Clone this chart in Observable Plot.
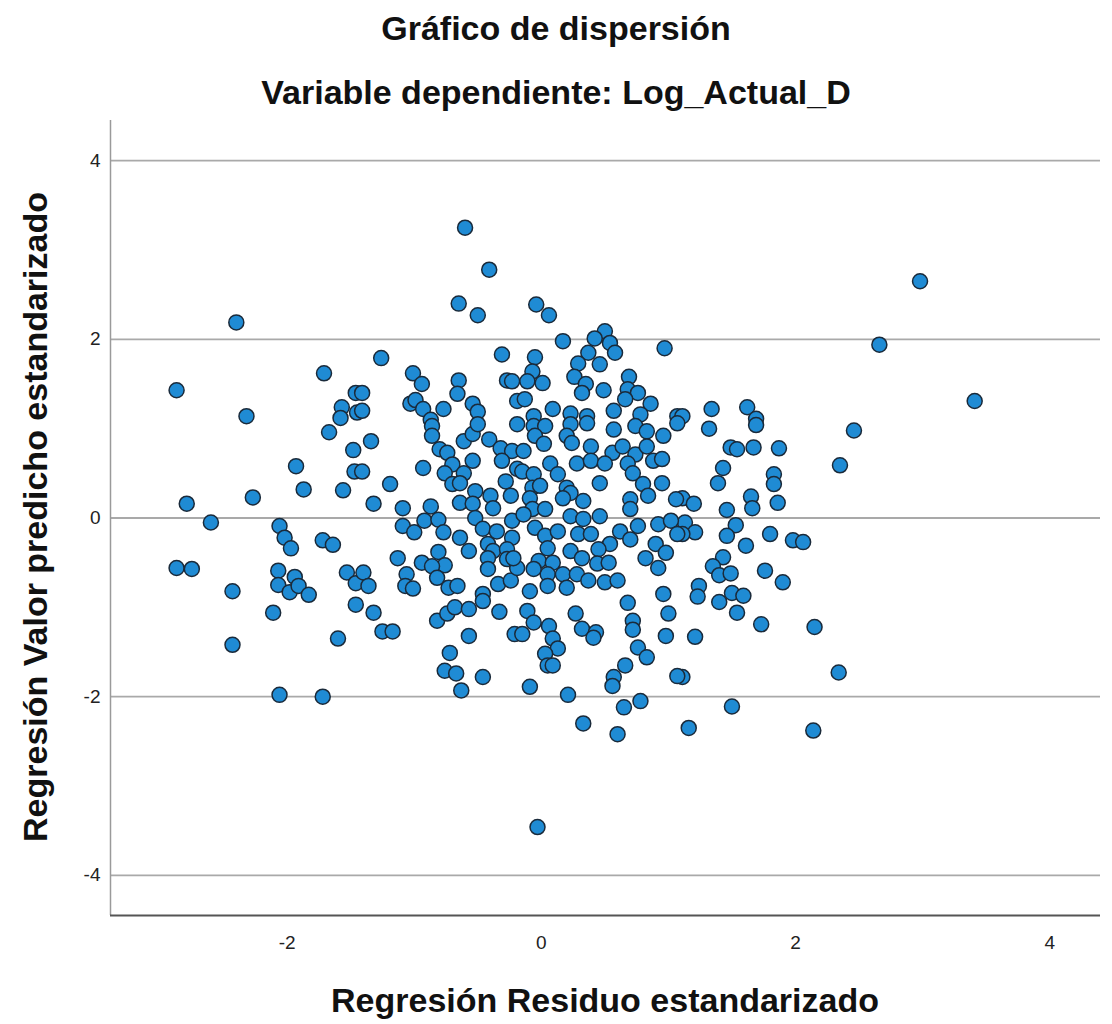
<!DOCTYPE html>
<html>
<head>
<meta charset="utf-8">
<script src="https://cdn.jsdelivr.net/npm/d3@7"></script>
<script src="https://cdn.jsdelivr.net/npm/@observablehq/plot@0.6"></script>
<style>
  body { margin: 0; background: #fff; }
  #wrap { position: relative; width: 1112px; height: 1024px; overflow: hidden; font-family: "Liberation Sans", Arial, sans-serif; color: #111; }
  .ttl { position: absolute; left: 0; width: 1112px; text-align: center; font-weight: bold; font-size: 34px; line-height: 40px; white-space: nowrap; }
  #xlab { position: absolute; left: 105px; width: 1000px; top: 980px; text-align: center; font-weight: bold; font-size: 34px; line-height: 40px; white-space: nowrap; }
  #ylab { position: absolute; left: -365px; top: 497px; width: 800px; height: 40px; text-align: center; font-weight: bold; font-size: 34px; line-height: 40px; white-space: nowrap; transform: rotate(-90deg); transform-origin: 50% 50%; }
  #chart { position: absolute; left: 0; top: 110px; }
</style>
</head>
<body>
<div id="wrap">
  <div class="ttl" style="top:8px">Gráfico de dispersión</div>
  <div class="ttl" style="top:72px">Variable dependiente: Log_Actual_D</div>
  <div id="chart"></div>
  <div id="ylab">Regresión Valor predicho estandarizado</div>
  <div id="xlab">Regresión Residuo estandarizado</div>
</div>
<script>
// Tick values
const xTicks = [-2, 0, 2, 4];
const yTicks = [-4, -2, 0, 2, 4];
const xDomain = [-3.39, 4.40];
const yDomain = [-4.45, 4.45];

// Regresión Residuo estandarizado (x)
const residuo = [
  -0.60,-0.41,-0.65,-0.50,-0.04,0.06,-2.40,2.98,2.66,3.41,
  2.46,2.35,-2.87,-2.32,-2.79,-2.60,-2.27,-2.87,-2.75,-2.43,
  -2.43,-2.11,-2.06,-1.72,-1.60,-0.03,2.14,2.15,2.34,1.50,
  1.16,0.60,0.33,-0.63,-0.09,0.21,
  -1.71,-1.46,-1.57,-1.45,-1.58,-1.67,-1.48,-1.93,-1.47,-1.87,
  -1.56,-2.06,-2.02,-1.97,-1.72,-1.64,-2.07,-1.94,-2.07,-1.98,
  -1.91,-1.83,-1.53,-1.46,-1.46,
  -1.26,-0.31,-1.01,-0.94,-0.65,-0.66,-0.27,-0.23,-1.03,-0.99,
  -0.93,-0.77,-0.54,-0.50,-1.41,-1.41,-0.19,-0.87,
  0.17,0.97,0.50,0.42,0.54,0.58,0.37,0.46,0.29,-0.05,
  -0.07,-0.11,0.01,0.26,0.35,0.32,0.49,0.69,0.68,0.76,
  0.66,0.86,-0.13,0.09,0.23,0.36,0.57,0.78,1.07,-0.06,
  1.34,1.62,1.11,1.69,
  1.32,1.69,1.49,1.54,1.67,1.87,1.43,1.39,1.83,1.83,
  1.11,1.20,1.46,1.65,1.66,1.86,1.13,1.21,1.11,1.53,
  1.46,1.61,1.80,1.98,2.06,1.43,1.35,1.40,1.49,1.76,
  1.90,1.24,1.23,1.40,1.50,1.59,1.54,1.73,1.21,1.11,
  -1.34,-0.86,-0.86,-0.80,-0.74,-0.61,-0.54,-0.50,-0.41,-0.32,
  -0.23,-0.19,-0.93,-0.70,-0.54,-0.76,-0.61,-0.31,-0.28,-0.19,
  -1.41,-1.19,-0.70,-0.64,-0.52,-0.40,-0.24,-1.32,-1.09,-0.87,
  -0.64,-0.54,-0.38,-1.09,-1.00,-0.92,-0.81,-0.77,-0.64,-0.52,
  -0.46,-0.35,-0.23,-0.23,-0.57,-0.42,-0.38,-0.27,-0.42,-0.27,
  -1.13,-0.94,-0.81,-0.76,-0.86,-1.06,-0.82,-1.40,-1.36,-1.07,
  -1.01,-0.73,-0.66,-0.46,-0.34,-0.24,-0.19,-0.22,-0.42,
  -0.06,0.03,0.23,0.36,0.57,0.74,0.83,0.96,1.07,-0.05,
  0.02,0.20,0.24,0.39,0.56,0.64,0.74,0.83,0.88,0.95,
  -0.14,0.07,0.13,0.28,0.39,0.50,0.68,0.72,0.80,0.84,
  0.95,1.06,0.46,-0.15,-0.06,-0.07,-0.01,0.20,0.23,0.17,
  0.33,0.70,0.70,0.46,-0.09,-0.07,0.03,-0.14,0.23,0.33,
  0.76,0.92,1.02,1.07,-0.05,0.03,0.13,0.29,0.39,0.62,
  0.70,0.54,0.90,0.98,0.05,0.23,0.45,-0.02,0.09,0.32,
  0.44,0.53,0.82,0.92,0.05,0.17,0.28,0.37,0.50,0.60,
  0.05,0.20,-0.09,-0.06,0.96,
  -1.32,-1.25,-1.17,-0.82,-0.74,-0.68,-0.57,-0.46,-0.33,-0.57,
  -0.21,-0.72,-0.76,-0.67,-0.46,
  -0.11,-0.06,0.06,0.09,0.13,0.03,0.05,0.09,0.27,0.32,
  0.43,0.41,-0.15,0.68,0.72,0.72,0.76,0.83,0.66,0.57,
  0.56,0.65,0.78,0.98,1.00,1.07
];

// Regresión Valor predicho estandarizado (y)
const predicho = [
  3.25,2.78,2.40,2.27,2.39,2.27,2.19,2.65,1.94,1.31,
  0.98,0.59,1.43,1.14,0.16,-0.05,0.23,-0.56,-0.57,-0.82,
  -1.42,-1.06,-1.98,-2.00,-1.35,-3.46,-2.38,-1.22,-1.73,-2.11,
  -2.35,-2.42,-2.30,-1.93,-1.89,-1.98,
  1.62,1.40,1.24,1.18,1.12,0.96,0.76,0.58,0.52,0.32,
  0.31,-0.09,-0.22,-0.34,-0.25,-0.30,-0.59,-0.66,-0.75,-0.83,
  -0.76,-0.86,-0.61,-0.73,-0.97,
  1.79,1.83,1.62,1.50,1.54,1.39,1.54,1.53,1.28,1.32,
  1.22,1.22,1.28,1.19,1.40,1.20,1.31,1.10,
  1.98,1.90,2.09,2.01,1.96,1.85,1.85,1.72,1.73,1.80,
  1.64,1.53,1.51,1.58,1.50,1.40,1.43,1.58,1.44,1.40,
  1.33,1.28,1.33,1.22,1.17,1.14,1.20,1.16,1.14,1.14,
  1.22,1.24,1.14,1.11,
  1.00,1.04,0.79,0.77,0.79,0.78,0.56,0.39,0.49,0.38,
  0.22,0.16,0.09,0.24,0.11,0.17,-0.05,-0.16,-0.18,-0.08,
  -0.20,-0.31,-0.18,-0.25,-0.27,-0.44,-0.54,-0.64,-0.62,-0.59,
  -0.72,-0.76,-0.88,-0.94,-0.84,-0.87,-1.06,-1.19,-1.33,-1.78,
  0.86,1.03,0.92,0.77,0.73,0.86,0.94,1.05,0.88,0.78,
  0.75,1.05,0.56,0.60,0.64,0.50,0.50,0.64,0.41,0.55,
  0.52,0.38,0.38,0.39,0.30,0.25,0.25,0.16,0.11,0.13,
  0.17,0.16,0.11,-0.09,-0.16,-0.03,-0.02,-0.16,-0.22,0.00,
  -0.12,-0.15,-0.03,-0.22,-0.37,-0.29,-0.37,-0.35,-0.45,-0.46,
  -0.45,-0.50,-0.38,-0.53,-0.54,-0.63,-0.67,-0.61,-0.76,-0.76,
  -0.79,-0.78,-0.76,-0.85,-0.74,-0.70,-0.56,-0.45,-0.57,
  1.03,1.03,1.05,1.06,0.99,1.03,0.97,0.92,1.06,0.92,
  0.83,0.92,0.84,0.80,0.73,0.80,0.71,0.80,0.64,0.66,
  0.75,0.61,0.49,0.61,0.64,0.61,0.61,0.50,0.38,0.25,
  0.39,0.21,0.39,0.52,0.49,0.34,0.36,0.34,0.28,0.22,
  0.19,0.21,0.10,0.02,0.22,0.10,0.10,0.04,0.02,-0.01,
  -0.09,-0.07,-0.03,-0.18,-0.11,-0.20,-0.15,-0.18,-0.18,-0.15,
  -0.24,-0.29,-0.29,-0.39,-0.34,-0.37,-0.35,-0.48,-0.50,-0.45,
  -0.51,-0.50,-0.45,-0.56,-0.63,-0.63,-0.63,-0.70,-0.72,-0.70,
  -0.76,-0.78,-0.82,-0.57,-0.85,
  -1.06,-1.27,-1.27,-1.15,-1.07,-1.00,-1.02,-0.93,-1.05,-1.32,
  -1.30,-1.51,-1.71,-1.74,-1.78,
  -1.04,-1.17,-1.21,-1.35,-1.46,-1.52,-1.65,-1.65,-1.07,-1.24,
  -1.28,-1.34,-1.30,-0.95,-1.15,-1.25,-1.45,-1.56,-1.65,-1.78,
  -1.88,-2.12,-2.05,-1.32,-1.07,-1.77
];

const data = residuo.map((x, i) => ({x, y: predicho[i]}));
if (residuo.length !== predicho.length) console.error("length mismatch", residuo.length, predicho.length);

const chart = Plot.plot({
  width: 1112,
  height: 914,
  marginLeft: 110,
  marginRight: 12,
  marginTop: 10,
  marginBottom: 109,
  style: { background: "transparent", fontFamily: "'Liberation Sans', Arial, sans-serif", color: "#222" },
  x: { domain: xDomain, label: null },
  y: { domain: yDomain, label: null },
  marks: [
    Plot.ruleY(yTicks, { stroke: "#a9a9a9", strokeWidth: 1.8 }),
    Plot.ruleX([xDomain[0]], { stroke: "#9a9a9a", strokeWidth: 1.5 }),
    Plot.ruleY([yDomain[0]], { stroke: "#555", strokeWidth: 2 }),
    Plot.axisX(xTicks, { tickSize: 0, tickPadding: 20, fontSize: 19, tickFormat: d => String(d), label: null }),
    Plot.axisY(yTicks, { tickSize: 0, tickPadding: 10, fontSize: 19, tickFormat: d => String(d), label: null }),
    Plot.dot(data, { x: "x", y: "y", r: 7.5, fill: "#1f8bd4", stroke: "#1a2a3a", strokeWidth: 1.5, fillOpacity: 1 })
  ]
});
document.getElementById("chart").appendChild(chart);
</script>
</body>
</html>
